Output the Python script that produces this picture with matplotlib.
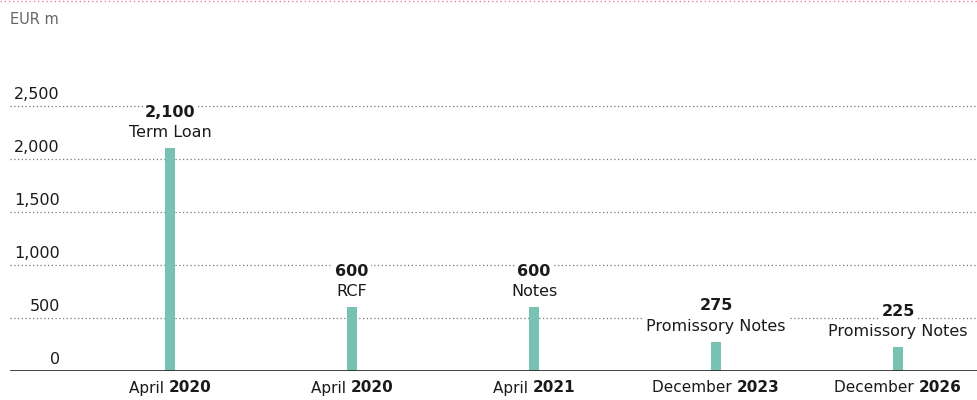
import matplotlib.pyplot as plt
from matplotlib.transforms import blended_transform_factory, offset_copy

# Maturity profile, EUR m
months = ["April", "April", "April", "December", "December"]
years = ["2020", "2020", "2021", "2023", "2026"]
amounts = [2100, 600, 600, 275, 225]
instruments = ["Term Loan", "RCF", "Notes", "Promissory Notes", "Promissory Notes"]
yticks = [0, 500, 1000, 1500, 2000, 2500]

bar_color = "#78c2b4"
text_color = "#1a1a1a"

plt.rcParams["font.family"] = ["DejaVu Sans"]

fig = plt.figure(figsize=(9.78, 4.0), dpi=100)
ax = fig.add_axes([10 / 978, 29 / 400, 968 / 978, 371 / 400])
ax.set_xlim(-0.88, 4.44)
ax.set_ylim(0, 3500)
ax.axis("off")

x = list(range(len(amounts)))
ax.bar(x, amounts, width=0.055, color=bar_color, zorder=2)

# dotted grid and baseline
for v in yticks[1:]:
    ax.axhline(v, color="#777777", lw=0.9, ls=(0, (1, 2)), zorder=1)
ax.axhline(0, color="#222222", lw=1.2, zorder=3)

# y tick labels sit just above their gridline, right aligned
ytrans = blended_transform_factory(fig.transFigure, ax.transData)
for v in yticks:
    ax.text(60 / 978, v, f"{v:,}", transform=offset_copy(ytrans, fig, y=3, units="points"),
            ha="right", va="bottom", fontsize=11.5, color=text_color)

fig.text(10 / 978, 1 - 20 / 400, "EUR m", ha="left", va="center", fontsize=10.5, color="#666666")

# faint pink dotted rule along the top edge
fig.add_artist(plt.Line2D([0, 1], [0.997, 0.997], transform=fig.transFigure,
                          color="#f08090", lw=1.0, ls=(0, (1, 2))))

# value and instrument labels above each bar
box = dict(facecolor="white", edgecolor="none", pad=1.5)
for xi, amt, name in zip(x, amounts, instruments):
    ax.annotate(name, (xi, amt), xytext=(0, 6), textcoords="offset points",
                ha="center", va="bottom", fontsize=11.5, color=text_color,
                bbox=box, zorder=4)
    ax.annotate(f"{amt:,}", (xi, amt), xytext=(0, 20.5), textcoords="offset points",
                ha="center", va="bottom", fontsize=11.5, fontweight="bold",
                color=text_color, bbox=box, zorder=4)

# category labels: month in regular weight, year in bold
renderer = fig.canvas.get_renderer()
xtrans = blended_transform_factory(ax.transData, fig.transFigure)
ylab = 1 - 388 / 400
for xi, m, yr in zip(x, months, years):
    a = ax.text(xi, ylab, m + " ", transform=xtrans, ha="left", va="center",
                fontsize=11, color=text_color)
    b = ax.text(xi, ylab, yr, transform=xtrans, ha="left", va="center",
                fontsize=11, fontweight="bold", color=text_color)
    wa = a.get_window_extent(renderer).width
    wb = b.get_window_extent(renderer).width
    px = ax.transData.transform((xi, 0))[0]
    left = px - (wa + wb) / 2
    a.set_x(ax.transData.inverted().transform((left, 0))[0])
    b.set_x(ax.transData.inverted().transform((left + wa, 0))[0])

fig.savefig("out.png", dpi=100)
